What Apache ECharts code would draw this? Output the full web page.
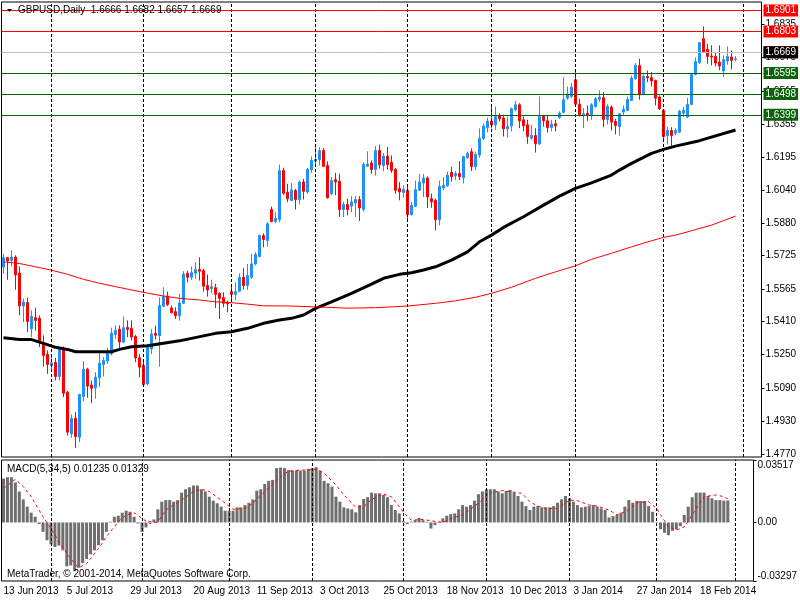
<!DOCTYPE html>
<html><head><meta charset="utf-8">
<script src="https://cdn.jsdelivr.net/npm/echarts@6/dist/echarts.min.js"></script>
<style>html,body{margin:0;padding:0;background:#fff}#c{width:800px;height:600px}</style>
</head><body><div id="c"></div><script>
// ---- data ----
const open = [1.5670,1.5715,1.5702,1.5718,1.5641,1.5483,1.5500,1.5374,1.5427,1.5424,
1.5299,1.5251,1.5198,1.5212,1.5145,1.5276,1.5070,1.4870,1.4944,1.4854,
1.5049,1.5180,1.5104,1.5091,1.5139,1.5203,1.5219,1.5254,1.5347,1.5372,
1.5310,1.5380,1.5376,1.5337,1.5235,1.5198,1.5110,1.5277,1.5352,1.5341,
1.5482,1.5531,1.5474,1.5456,1.5437,1.5496,1.5640,1.5621,1.5640,1.5658,
1.5653,1.5581,1.5567,1.5571,1.5544,1.5523,1.5501,1.5552,1.5539,1.5554,
1.5621,1.5581,1.5621,1.5685,1.5720,1.5821,1.5797,1.5946,1.5888,1.5898,
1.6133,1.6029,1.5989,1.6037,1.5994,1.6078,1.6030,1.6137,1.6178,1.6186,
1.6229,1.6157,1.6022,1.6089,1.6081,1.5946,1.5970,1.5962,1.5977,1.5994,
1.5946,1.6153,1.6169,1.6138,1.6229,1.6157,1.6202,1.6172,1.6138,1.6047,
1.6028,1.6038,1.5921,1.5962,1.6038,1.6073,1.6097,1.5998,1.5990,1.5897,
1.6049,1.6060,1.6124,1.6108,1.6119,1.6098,1.6194,1.6223,1.6151,1.6207,
1.6287,1.6338,1.6370,1.6352,1.6397,1.6384,1.6333,1.6347,1.6424,1.6448,
1.6376,1.6352,1.6288,1.6301,1.6261,1.6392,1.6371,1.6339,1.6357,1.6387,
1.6411,1.6480,1.6488,1.6568,1.6451,1.6400,1.6408,1.6400,1.6440,1.6475,
1.6482,1.6378,1.6437,1.6368,1.6344,1.6413,1.6421,1.6469,1.6573,1.6637,
1.6498,1.6584,1.6578,1.6565,1.6485,1.6421,1.6301,1.6325,1.6312,1.6317,
1.6408,1.6389,1.6450,1.6594,1.6650,1.6765,1.6714,1.6682,1.6680,1.6653,
1.6610,1.6658,1.6677,1.6666];
const close = [1.5715,1.5699,1.5718,1.5632,1.5484,1.5502,1.5409,1.5433,1.5414,1.5310,
1.5246,1.5203,1.5211,1.5145,1.5275,1.5065,1.4878,1.4944,1.4857,1.5059,
1.5179,1.5099,1.5089,1.5142,1.5209,1.5222,1.5262,1.5353,1.5366,1.5310,
1.5379,1.5371,1.5334,1.5235,1.5190,1.5107,1.5289,1.5349,1.5343,1.5485,
1.5530,1.5490,1.5451,1.5437,1.5498,1.5637,1.5621,1.5643,1.5658,1.5650,
1.5578,1.5560,1.5576,1.5539,1.5520,1.5496,1.5493,1.5539,1.5552,1.5621,
1.5581,1.5629,1.5685,1.5730,1.5821,1.5802,1.5877,1.5888,1.5904,1.6133,
1.6024,1.5997,1.6040,1.5994,1.6078,1.6033,1.6138,1.6181,1.6186,1.6229,
1.6153,1.6002,1.6085,1.6078,1.5946,1.5970,1.5946,1.5982,1.5994,1.5953,
1.6162,1.6164,1.6138,1.6229,1.6161,1.6202,1.6161,1.6133,1.6038,1.6030,
1.6042,1.5921,1.5966,1.6041,1.6078,1.6097,1.6006,1.5982,1.5897,1.6057,
1.6062,1.6111,1.6103,1.6119,1.6103,1.6199,1.6215,1.6151,1.6210,1.6287,
1.6346,1.6370,1.6351,1.6392,1.6381,1.6333,1.6344,1.6429,1.6448,1.6371,
1.6347,1.6296,1.6301,1.6261,1.6392,1.6371,1.6339,1.6355,1.6347,1.6408,
1.6472,1.6499,1.6533,1.6451,1.6400,1.6405,1.6397,1.6448,1.6477,1.6485,
1.6378,1.6440,1.6365,1.6349,1.6405,1.6426,1.6474,1.6576,1.6637,1.6496,
1.6584,1.6578,1.6562,1.6480,1.6429,1.6296,1.6325,1.6301,1.6325,1.6418,
1.6421,1.6450,1.6594,1.6656,1.6746,1.6701,1.6680,1.6677,1.6648,1.6634,
1.6664,1.6680,1.6661,1.6669];
const low = [1.5638,1.5609,1.5673,1.5561,1.5438,1.5406,1.5358,1.5334,1.5366,1.5286,
1.5193,1.5158,1.5166,1.5126,1.5126,1.5046,1.4862,1.4851,1.4803,1.4830,
1.5027,1.5043,1.5017,1.5038,1.5094,1.5145,1.5206,1.5246,1.5326,1.5278,
1.5305,1.5334,1.5318,1.5214,1.5142,1.5097,1.5102,1.5253,1.5322,1.5192,
1.5477,1.5483,1.5448,1.5421,1.5413,1.5493,1.5597,1.5608,1.5613,1.5605,
1.5552,1.5528,1.5544,1.5474,1.5421,1.5477,1.5453,1.5512,1.5512,1.5549,
1.5562,1.5560,1.5613,1.5677,1.5717,1.5765,1.5768,1.5885,1.5880,1.5885,
1.6016,1.5981,1.5986,1.5946,1.5970,1.5994,1.6022,1.6121,1.6157,1.6157,
1.6149,1.5998,1.6014,1.6014,1.5910,1.5910,1.5918,1.5934,1.5910,1.5891,
1.5935,1.6149,1.6117,1.6109,1.6142,1.6130,1.6137,1.6122,1.6022,1.5990,
1.6002,1.5894,1.5918,1.5958,1.6038,1.6006,1.5953,1.5954,1.5846,1.5870,
1.6038,1.6055,1.6079,1.6087,1.6087,1.6071,1.6188,1.6130,1.6135,1.6194,
1.6279,1.6316,1.6335,1.6328,1.6368,1.6296,1.6291,1.6320,1.6416,1.6336,
1.6320,1.6261,1.6280,1.6219,1.6256,1.6344,1.6315,1.6320,1.6320,1.6381,
1.6408,1.6472,1.6480,1.6440,1.6392,1.6336,1.6371,1.6376,1.6434,1.6461,
1.6341,1.6354,1.6325,1.6306,1.6301,1.6397,1.6418,1.6466,1.6568,1.6472,
1.6493,1.6557,1.6536,1.6445,1.6424,1.6277,1.6258,1.6242,1.6301,1.6312,
1.6389,1.6386,1.6445,1.6589,1.6645,1.6696,1.6645,1.6637,1.6632,1.6613,
1.6581,1.6640,1.6618,1.6657];
const high = [1.5734,1.5718,1.5750,1.5726,1.5673,1.5518,1.5523,1.5462,1.5475,1.5438,
1.5342,1.5270,1.5246,1.5235,1.5286,1.5289,1.5075,1.4963,1.4976,1.5062,
1.5219,1.5187,1.5126,1.5166,1.5257,1.5238,1.5283,1.5379,1.5390,1.5390,
1.5433,1.5414,1.5414,1.5345,1.5254,1.5214,1.5302,1.5373,1.5389,1.5525,
1.5573,1.5552,1.5485,1.5477,1.5541,1.5650,1.5653,1.5672,1.5693,1.5717,
1.5661,1.5634,1.5610,1.5589,1.5549,1.5549,1.5509,1.5589,1.5597,1.5640,
1.5664,1.5685,1.5733,1.5741,1.5826,1.5832,1.5885,1.5960,1.5933,1.6162,
1.6146,1.6069,1.6072,1.6045,1.6085,1.6093,1.6145,1.6201,1.6258,1.6245,
1.6241,1.6177,1.6101,1.6122,1.6117,1.5982,1.5998,1.6010,1.6010,1.6010,
1.6172,1.6225,1.6181,1.6250,1.6257,1.6217,1.6245,1.6205,1.6145,1.6078,
1.6062,1.6054,1.5982,1.6085,1.6117,1.6117,1.6105,1.6022,1.5998,1.6085,
1.6101,1.6127,1.6151,1.6130,1.6178,1.6204,1.6223,1.6239,1.6223,1.6335,
1.6359,1.6386,1.6444,1.6440,1.6408,1.6400,1.6392,1.6435,1.6467,1.6456,
1.6392,1.6376,1.6352,1.6336,1.6488,1.6400,1.6400,1.6376,1.6376,1.6416,
1.6581,1.6536,1.6552,1.6608,1.6477,1.6432,1.6445,1.6456,1.6485,1.6517,
1.6509,1.6450,1.6445,1.6381,1.6408,1.6445,1.6488,1.6589,1.6648,1.6669,
1.6594,1.6613,1.6605,1.6568,1.6493,1.6424,1.6344,1.6341,1.6336,1.6424,
1.6437,1.6482,1.6600,1.6674,1.6749,1.6824,1.6741,1.6733,1.6701,1.6733,
1.6685,1.6728,1.6709,1.6682];

// moving averages, sampled along the line: [bar index, value]
const maBlack = [[0,1.5331],[4,1.5323],[7,1.5322],[10,1.5304],[13,1.5285],[16,1.5275],[18,1.5264],[27,1.5264],[29,1.5275],[32,1.5288],[36,1.5292],[44,1.5316],[53,1.5352],[57,1.5360],[61,1.5376],[65,1.5400],[69,1.5416],[72,1.5424],[75,1.5440],[78,1.5472],[82,1.5503],[87,1.5544],[92,1.5588],[95,1.5616],[99,1.5635],[102,1.5643],[105,1.5656],[108,1.5671],[112,1.5703],[116,1.5743],[119,1.5791],[122,1.5823],[125,1.5860],[130,1.5911],[135,1.5967],[139,1.6010],[143,1.6047],[147,1.6074],[152,1.6111],[154,1.6135],[157,1.6167],[162,1.6215],[165,1.6234],[168,1.6250],[174,1.6276],[183,1.6327]];
const maRed = [[0,1.5695],[4,1.5687],[7,1.5675],[12,1.5655],[16,1.5635],[20,1.5611],[24,1.5592],[28,1.5576],[32,1.5560],[36,1.5545],[40,1.5531],[44,1.5520],[49,1.5512],[53,1.5503],[57,1.5499],[61,1.5492],[65,1.5484],[72,1.5483],[79,1.5478],[86,1.5473],[93,1.5475],[101,1.5483],[108,1.5496],[113,1.5508],[118,1.5525],[122,1.5544],[127,1.5573],[133,1.5616],[138,1.5647],[143,1.5676],[147,1.5707],[152,1.5736],[157,1.5767],[162,1.5796],[165,1.5812],[168,1.5823],[172,1.5844],[177,1.5871],[183,1.5914]];

// MACD(5,34,5) histogram, one value per bar
const macd = [0.0247,0.0255,0.0255,0.0225,0.0174,0.0130,0.0089,0.0055,0.0032,-0.0009,
-0.0053,-0.0100,-0.0123,-0.0138,-0.0130,-0.0157,-0.0247,-0.0242,-0.0274,-0.0255,
-0.0228,-0.0206,-0.0179,-0.0157,-0.0128,-0.0100,-0.0053,0.0004,0.0032,0.0038,
0.0055,0.0066,0.0060,0.0032,-0.0006,-0.0053,-0.0028,0.0009,0.0017,0.0074,
0.0117,0.0126,0.0126,0.0117,0.0126,0.0168,0.0187,0.0198,0.0208,0.0208,
0.0187,0.0174,0.0145,0.0123,0.0108,0.0089,0.0066,0.0066,0.0066,0.0085,
0.0085,0.0098,0.0111,0.0130,0.0179,0.0187,0.0217,0.0234,0.0240,0.0306,
0.0309,0.0306,0.0296,0.0292,0.0292,0.0292,0.0292,0.0302,0.0306,0.0311,
0.0292,0.0234,0.0221,0.0202,0.0145,0.0117,0.0085,0.0079,0.0074,0.0057,
0.0098,0.0132,0.0142,0.0168,0.0164,0.0164,0.0155,0.0142,0.0098,0.0070,
0.0051,0.0008,-0.0009,0.0004,0.0013,0.0026,0.0013,0.0004,-0.0034,-0.0015,
0.0004,0.0023,0.0038,0.0047,0.0051,0.0074,0.0098,0.0089,0.0098,0.0123,
0.0159,0.0174,0.0187,0.0187,0.0187,0.0174,0.0164,0.0177,0.0183,0.0168,
0.0149,0.0117,0.0092,0.0070,0.0089,0.0092,0.0085,0.0085,0.0085,0.0092,
0.0111,0.0130,0.0149,0.0136,0.0117,0.0098,0.0085,0.0089,0.0092,0.0098,
0.0089,0.0079,0.0070,0.0028,0.0036,0.0042,0.0055,0.0089,0.0126,0.0111,
0.0121,0.0121,0.0121,0.0092,0.0060,0.0002,-0.0038,-0.0058,-0.0072,-0.0047,
-0.0040,-0.0021,0.0042,0.0089,0.0142,0.0168,0.0168,0.0168,0.0149,0.0136,
0.0126,0.0126,0.0123,0.01235];
// signal line sampled: [bar index, value]
const signal = [[0,0.0192],[3,0.0243],[5,0.0202],[7,0.0145],[10,0.0032],[12,-0.0034],[14,-0.0109],[17,-0.0204],[19,-0.0255],[21,-0.0232],[24,-0.0147],[26,-0.0081],[29,0.0004],[31,0.0042],[33,0.0055],[35,0.0023],[37,-0.0006],[39,0.0004],[41,0.0070],[45,0.0126],[48,0.0174],[50,0.0187],[52,0.0174],[55,0.0126],[58,0.0074],[61,0.0079],[63,0.0108],[66,0.0174],[68,0.0215],[71,0.0277],[73,0.0292],[77,0.0296],[79,0.0300],[81,0.0277],[84,0.0211],[86,0.0155],[89,0.0085],[91,0.0089],[93,0.0130],[96,0.0160],[98,0.0145],[100,0.0089],[101,0.0060],[103,0.0013],[106,0.0017],[108,0.0009],[111,0.0000],[113,0.0023],[116,0.0042],[118,0.0074],[121,0.0126],[123,0.0168],[126,0.0179],[128,0.0174],[131,0.0164],[133,0.0117],[135,0.0092],[137,0.0079],[140,0.0079],[143,0.0126],[145,0.0123],[148,0.0098],[150,0.0092],[153,0.0070],[155,0.0042],[158,0.0070],[160,0.0111],[163,0.0117],[165,0.0079],[168,-0.0025],[170,-0.0043],[172,-0.0025],[174,0.0042],[177,0.0145],[180,0.0155],[182,0.0145],[183,0.01329]];

const resistance = [1.6901, 1.6803, 1.6706];
const support = [1.6595, 1.6498, 1.6399];
const lastPrice = 1.6669;
const priceTicks = [1.4770,1.4930,1.5090,1.5250,1.5410,1.5565,1.5725,1.5880,1.6040,1.6195,1.6355,1.6515,1.6675,1.6835];
const macdTicks = [-0.03297, 0, 0.03517];
const tickLabels = ['13 Jun 2013','5 Jul 2013','29 Jul 2013','20 Aug 2013','11 Sep 2013','3 Oct 2013','25 Oct 2013','18 Nov 2013','10 Dec 2013','3 Jan 2014','27 Jan 2014','18 Feb 2014'];
const separatorDates = ['1 Jul 2013','1 Aug 2013','2 Sep 2013','1 Oct 2013','1 Nov 2013','2 Dec 2013','2 Jan 2014','3 Feb 2014','3 Mar 2014'];
const holidays = ['2013-12-25','2014-01-01'];

// trading-day categories (weekdays without holidays), including some empty days on the right
const MON = ['Jan','Feb','Mar','Apr','May','Jun','Jul','Aug','Sep','Oct','Nov','Dec'];
const categories = [];
{
  const d = new Date(Date.UTC(2013, 5, 13));
  while (categories.length < 190) {
    const dow = d.getUTCDay();
    const iso = d.toISOString().slice(0, 10);
    if (dow !== 0 && dow !== 6 && holidays.indexOf(iso) < 0) {
      categories.push(d.getUTCDate() + ' ' + MON[d.getUTCMonth()] + ' ' + d.getUTCFullYear());
    }
    d.setUTCDate(d.getUTCDate() + 1);
  }
}

const FONT = '"Liberation Sans", Arial, sans-serif';
const candleData = open.map((o, i) => [o, close[i], low[i], high[i]]);

function levelItem(v, lineColor, boxColor) {
  return {
    yAxis: v,
    lineStyle: { color: lineColor, width: 1, type: 'solid' },
    label: {
      show: true, position: 'end', distance: 2, formatter: v.toFixed(4),
      color: '#fff', backgroundColor: boxColor, padding: [1, 2, 0, 2],
      fontSize: 10, lineHeight: 11, fontFamily: FONT
    }
  };
}
const levelData = []
  .concat(resistance.map(v => levelItem(v, '#FF0000', '#FF0000')))
  .concat(support.map(v => levelItem(v, '#006400', '#0B640B')))
  .concat([levelItem(lastPrice, '#C0C0C0', '#000000')]);

const sepMark = {
  silent: true, symbol: ['none', 'none'], label: { show: false },
  lineStyle: { color: '#000', width: 1, type: [3, 2] },
  data: separatorDates.map(d => ({ xAxis: d }))
};

const txt = { fontSize: 10, fontWeight: 'normal', color: '#000', fontFamily: FONT };
const option = {
  animation: false,
  backgroundColor: '#fff',
  textStyle: { fontFamily: FONT },
  title: [
    { text: 'GBPUSD,Daily  1.6666 1.6682 1.6657 1.6669', left: 18, top: 5, padding: 0, textStyle: txt, z: 10 },
    { text: 'MACD(5,34,5) 0.01235 0.01329', left: 7, top: 464, padding: 0, textStyle: txt, z: 10 },
    { text: 'MetaTrader, © 2001-2014, MetaQuotes Software Corp.', left: 7, top: 569, padding: 0, textStyle: txt, z: 10 }
  ],
  graphic: [
    { type: 'polygon', shape: { points: [[7, 9], [12, 9], [9.5, 12]] }, style: { fill: '#000' }, z: 100 }
  ],
  grid: [
    { left: 1.5, right: 38.5, top: 2, height: 455, show: true, borderColor: '#000', borderWidth: 1, backgroundColor: '#fff' },
    { left: 1.5, right: 38.5, top: 460, height: 121, show: true, borderColor: '#000', borderWidth: 1, backgroundColor: '#fff' }
  ],
  xAxis: [
    { type: 'category', gridIndex: 0, data: categories, boundaryGap: true,
      axisLine: { show: false }, axisTick: { show: false }, axisLabel: { show: false }, splitLine: { show: false } },
    { type: 'category', gridIndex: 1, data: categories, boundaryGap: true,
      axisLine: { show: false }, axisTick: { show: false }, splitLine: { show: false },
      axisLabel: { show: true, interval: (i, v) => tickLabels.indexOf(v) >= 0, align: 'left',
        fontSize: 10, color: '#000', margin: 5, fontFamily: FONT } }
  ],
  yAxis: [
    { type: 'value', gridIndex: 0, position: 'right', min: 1.4759, max: 1.6941,
      axisLine: { show: false }, splitLine: { show: false },
      axisTick: { show: true, length: 3, customValues: priceTicks, lineStyle: { color: '#000' } },
      axisLabel: { customValues: priceTicks, formatter: v => v.toFixed(4), fontSize: 10, color: '#000', margin: 4, fontFamily: FONT } },
    { type: 'value', gridIndex: 1, position: 'right', min: -0.03297, max: 0.03517,
      axisLine: { show: false }, splitLine: { show: false },
      axisTick: { show: true, length: 3, customValues: macdTicks, lineStyle: { color: '#000' } },
      axisLabel: { customValues: macdTicks, formatter: v => (v === 0 ? '0.00' : v.toFixed(5)),
        verticalAlignMinLabel: 'bottom', verticalAlignMaxLabel: 'top',
        fontSize: 10, color: '#000', margin: 4, fontFamily: FONT } }
  ],
  series: [
    { type: 'line', xAxisIndex: 0, yAxisIndex: 0, data: [], silent: true, z: 1, markLine: sepMark },
    { type: 'line', xAxisIndex: 1, yAxisIndex: 1, data: [], silent: true, z: 1, markLine: sepMark },
    { type: 'candlestick', xAxisIndex: 0, yAxisIndex: 0, data: candleData, barWidth: 2, z: 2,
      itemStyle: { color: '#1E90FF', color0: '#FF0000', borderColor: '#1E90FF', borderColor0: '#FF0000', borderWidth: 1 } },
    { type: 'line', xAxisIndex: 0, yAxisIndex: 0, data: maBlack, symbol: 'none', z: 3,
      lineStyle: { color: '#000', width: 3 } },
    { type: 'line', xAxisIndex: 0, yAxisIndex: 0, data: maRed, symbol: 'none', z: 3,
      lineStyle: { color: '#FF0000', width: 1 } },
    { type: 'line', xAxisIndex: 0, yAxisIndex: 0, data: [], z: 4,
      markLine: { silent: true, symbol: ['none', 'none'], data: levelData } },
    { type: 'bar', xAxisIndex: 1, yAxisIndex: 1, data: macd, barWidth: 3, z: 2,
      itemStyle: { color: '#6E6E6E' } },
    { type: 'line', xAxisIndex: 1, yAxisIndex: 1, data: signal, symbol: 'none', z: 3,
      lineStyle: { color: '#FF0000', width: 1, type: [3, 3] } }
  ]
};
const chart = echarts.init(document.getElementById('c'));
chart.setOption(option);
</script></body></html>
